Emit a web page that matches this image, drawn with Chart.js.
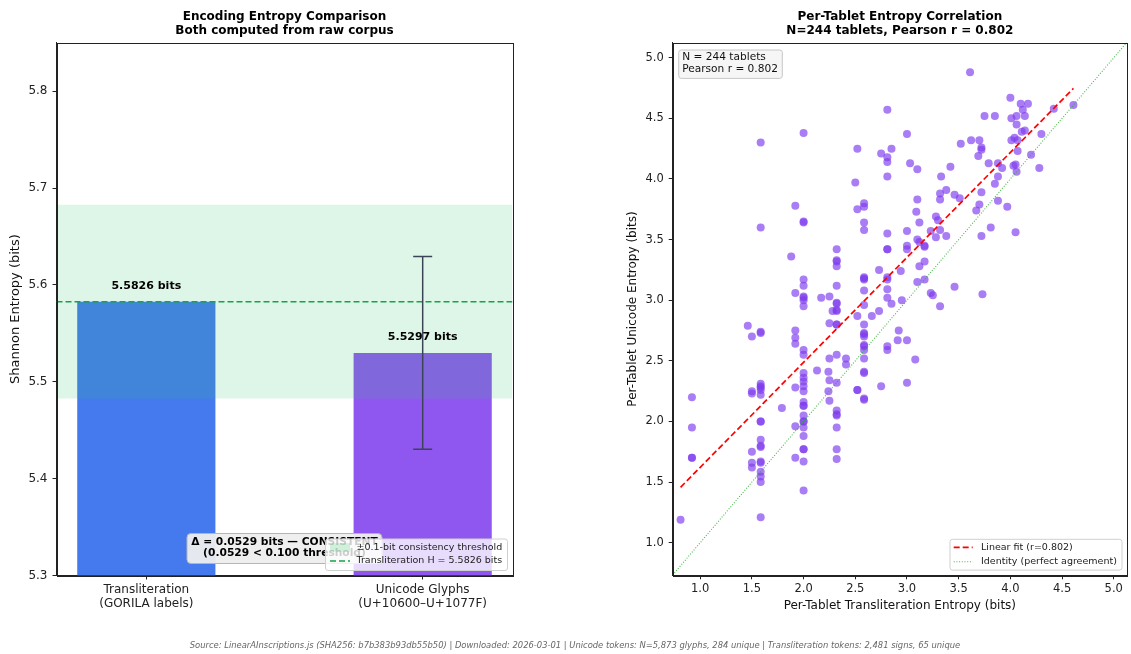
<!DOCTYPE html>
<html>
<head>
<meta charset="utf-8">
<title>Encoding Entropy</title>
<script src="https://cdn.jsdelivr.net/npm/chart.js@4.4.1/dist/chart.umd.min.js"></script>
<style>
  body { margin:0; background:#fff; }
  #wrap { position:relative; width:1131px; height:654px; overflow:hidden; }
  canvas { position:absolute; left:0; top:0; }
  #source { position:absolute; left:0; width:1150px; top:640px; text-align:center;
            font:italic 8.4px 'DejaVu Sans'; color:#666; white-space:nowrap; }
</style>
</head>
<body>
<div id="wrap">
  <canvas id="barChart" width="1131" height="654"></canvas>
  <canvas id="scatterChart" width="1131" height="654"></canvas>
  <div id="source">Source: LinearAInscriptions.js (SHA256: b7b383b93db55b50) | Downloaded: 2026-03-01 | Unicode tokens: N=5,873 glyphs, 284 unique | Transliteration tokens: 2,481 signs, 65 unique</div>
</div>
<script>
// ---- left panel data ----
const categories = [['Transliteration', '(GORILA labels)'], ['Unicode Glyphs', '(U+10600–U+1077F)']];
const entropy = [5.5826, 5.5297];
const entropyErr = [0, 0.0995];
const threshold = 0.1;
const barXLim = [-0.325, 1.325];
const barYLim = [5.3, 5.85];
const barYTicks = [5.3, 5.4, 5.5, 5.6, 5.7, 5.8];

// ---- right panel data (per tablet) ----
const translitH = [
  0.81,0.92,0.92,0.92,0.92,1.46,1.50,1.585,1.585,1.50,
  1.50,1.585,1.585,1.585,1.585,1.585,1.585,1.585,1.585,1.585,
  1.585,1.50,1.50,1.50,1.585,1.585,1.585,1.585,1.585,1.585,
  1.79,1.92,1.92,1.92,1.92,1.92,1.92,
  2.00,2.00,2.00,2.00,2.00,2.00,2.00,2.00,2.00,2.00,2.00,2.00,2.00,2.00,2.00,2.00,2.00,2.00,2.00,2.00,2.00,
  2.13,2.24,2.25,2.24,2.25,2.25,2.25,2.32,2.32,2.32,
  2.32,2.32,2.32,2.32,2.32,2.32,2.32,2.41,2.41,2.52,
  2.52,2.52,
  2.585,2.585,2.585,2.585,2.585,2.585,2.585,2.585,2.585,2.585,2.585,2.585,2.585,
  2.66,2.73,2.75,2.81,2.81,2.85,2.92,2.91,3.00,3.00,
  2.95,3.08,3.32,
  3.61,2.81,2.00,1.585,3.00,2.52,2.75,2.81,2.81,2.85,
  3.03,3.10,2.81,2.50,1.92,2.00,2.00,1.585,2.52,2.585,
  2.585,2.585,2.585,1.88,1.92,2.00,2.00,2.00,2.00,2.17,
  2.25,2.32,2.32,2.32,2.32,2.32,2.32,2.32,2.28,2.32,
  2.32,2.81,2.81,2.81,2.73,2.81,2.81,2.81,2.81,2.585,
  2.585,2.585,2.585,2.94,3.00,3.00,3.00,3.10,3.09,3.12,
  3.10,3.12,3.17,3.17,3.10,3.12,3.17,3.17,3.23,3.28,
  3.30,3.28,3.32,3.38,3.23,3.25,3.46,3.32,3.32,3.38,
  3.46,3.51,3.33,3.42,3.52,3.62,3.70,3.72,3.72,3.69,
  3.79,3.72,3.70,3.67,3.72,3.81,3.73,3.75,3.85,3.85,
  3.88,3.88,3.92,3.88,3.97,4.05,4.00,4.01,4.06,4.06,
  4.10,4.17,4.12,4.14,4.11,4.14,4.01,4.04,4.07,4.07,
  4.20,4.03,4.05,4.06,4.28,4.30,4.42,4.61
];
const unicodeH = [
  1.19,2.20,1.95,1.70,1.70,2.79,2.70,2.73,2.74,2.25,
  2.23,2.31,2.29,2.28,2.26,2.22,2.00,2.00,1.85,1.79,
  1.80,1.75,1.66,1.62,1.67,1.66,1.585,1.545,1.50,1.21,
  2.11,2.75,2.69,2.64,2.28,1.96,1.70,
  3.00,2.95,2.59,2.55,2.40,2.36,2.33,2.29,2.25,2.16,2.13,2.13,2.05,2.00,2.00,1.95,1.88,1.77,1.77,1.67,1.43,
  2.42,2.41,2.34,2.25,2.17,2.52,2.81,2.80,2.80,2.55,
  2.32,2.09,2.05,2.06,1.95,1.77,1.69,2.52,2.47,2.87,
  2.26,2.26,
  2.96,2.80,2.73,2.72,2.70,2.62,2.63,2.59,2.52,2.40,2.41,2.18,2.19,
  2.87,2.91,2.29,2.62,2.59,2.97,2.75,2.67,2.67,2.32,
  3.00,2.51,2.95,
  4.88,4.57,4.38,4.30,4.37,4.25,4.21,4.18,4.14,4.25,
  4.13,4.08,4.02,3.97,3.78,3.64,3.65,3.60,3.75,3.80,
  3.77,3.64,3.58,3.36,3.06,3.17,3.12,3.03,3.02,3.02,
  3.03,3.42,3.32,3.33,3.28,3.12,2.97,2.98,2.91,2.91,
  2.92,3.55,3.42,3.42,3.25,3.19,3.17,3.09,3.02,3.19,
  3.18,3.17,3.08,3.24,3.57,3.45,3.42,3.83,3.73,3.64,
  3.50,3.48,3.45,3.44,3.15,3.28,3.32,3.17,3.57,3.69,
  3.66,3.52,3.58,3.53,3.06,3.04,3.11,3.88,3.83,3.91,
  3.87,3.84,4.02,4.10,4.29,4.32,4.32,4.26,4.24,4.19,
  4.13,3.89,3.79,3.74,3.53,3.60,3.05,4.52,4.52,3.96,
  4.13,4.02,4.09,3.82,3.77,3.56,4.67,4.50,4.52,4.45,
  4.62,4.62,4.57,4.52,4.39,4.40,4.32,4.34,4.32,4.23,
  4.20,4.11,4.12,4.06,4.09,4.37,4.58,4.61
];
const fitX = [0.81, 4.61];
const fitY = [1.457, 4.747];
const identityRange = [0.70, 5.15];
const scatterXLim = [0.734, 5.128];
const scatterYLim = [0.731, 5.124];
const scatterTicks = [1.0, 1.5, 2.0, 2.5, 3.0, 3.5, 4.0, 4.5, 5.0];
const nTablets = 244, pearsonR = 0.802;

Chart.defaults.font.family = "'DejaVu Sans', sans-serif";
Chart.defaults.color = '#222';
Chart.defaults.animation = false;

const FONT = "'DejaVu Sans'";
const BLUE = 'rgba(37,99,235,0.85)', PURPLE = 'rgba(124,58,237,0.85)';
const BAND = 'rgba(34,197,94,0.15)', GREEN = '#16a34a';
const IDENTITY = 'rgba(44,170,44,0.85)';

// shared helpers
function roundBox(ctx, x, y, w, h, r, fill, stroke){
  ctx.beginPath();
  ctx.roundRect(x, y, w, h, r);
  ctx.fillStyle = fill; ctx.fill();
  if (stroke){ ctx.strokeStyle = stroke; ctx.lineWidth = 1; ctx.stroke(); }
}
const panelTitle = {
  id: 'panelTitle',
  afterDraw(chart, args, opts){
    const {ctx, chartArea: a} = chart;
    ctx.save();
    ctx.font = 'bold 12px ' + FONT; ctx.fillStyle = '#000';
    ctx.textAlign = 'center'; ctx.textBaseline = 'middle';
    opts.lines.forEach((t, i) => ctx.fillText(t, (a.left + a.right) / 2, 17 + i * 14));
    // top/right spines
    ctx.strokeStyle = '#222'; ctx.lineWidth = 1;
    ctx.strokeRect(Math.round(a.left) + 0.5, Math.round(a.top) + 0.5, Math.round(a.right - a.left), Math.round(a.bottom - a.top));
    ctx.restore();
  }
};
function fixTicks(list){ return s => { s.ticks = list.map(v => ({value: v})); }; }
const tickGrid = {drawOnChartArea: false, color: '#222', tickLength: 4, offset: false};

// ---------------- left: bar chart ----------------
const barAnnotations = {
  id: 'barAnnotations',
  afterDatasetsDraw(chart){
    const {ctx, scales: {x, y}} = chart;
    ctx.save();
    // error bars
    ctx.strokeStyle = '#3b4454'; ctx.lineWidth = 1.5;
    entropy.forEach((v, i) => {
      if (!entropyErr[i]) return;
      const px = x.getPixelForValue(i);
      const t = y.getPixelForValue(v + entropyErr[i]), b = y.getPixelForValue(v - entropyErr[i]);
      ctx.beginPath();
      ctx.moveTo(px, t); ctx.lineTo(px, b);
      ctx.moveTo(px - 9.5, t); ctx.lineTo(px + 9.5, t);
      ctx.moveTo(px - 9.5, b); ctx.lineTo(px + 9.5, b);
      ctx.stroke();
    });
    // value labels
    ctx.font = 'bold 11px ' + FONT; ctx.fillStyle = '#000';
    ctx.textAlign = 'center'; ctx.textBaseline = 'middle';
    entropy.forEach((v, i) => ctx.fillText(v.toFixed(4) + ' bits', x.getPixelForValue(i), y.getPixelForValue(v) - 15.5));
    ctx.restore();
  },
  afterDraw(chart){
    const {ctx, chartArea: a} = chart;
    const cx = (a.left + a.right) / 2;
    const delta = entropy[0] - entropy[1];
    ctx.save();
    // delta box
    roundBox(ctx, cx - 97.5, 533.5, 195, 30, 4, 'rgba(238,238,238,0.95)', '#b5b5b5');
    ctx.font = 'bold 10.7px ' + FONT; ctx.fillStyle = '#000';
    ctx.textAlign = 'center'; ctx.textBaseline = 'middle';
    ctx.fillText('Δ = ' + delta.toFixed(4) + ' bits — ' + (delta < threshold ? 'CONSISTENT' : 'INCONSISTENT'), cx, 541.8);
    ctx.fillText('(' + delta.toFixed(4) + ' < ' + threshold.toFixed(3) + ' threshold)', cx, 553.4);
    // legend
    const lx = a.right - 187, ly = a.bottom - 36.5;
    roundBox(ctx, lx, ly, 182, 31.5, 2.5, 'rgba(255,255,255,0.8)', '#d0d0d0');
    ctx.fillStyle = 'rgba(34,197,94,0.2)';
    ctx.fillRect(lx + 4.5, ly + 4.2, 20, 8.4);
    ctx.strokeStyle = GREEN; ctx.lineWidth = 1.6; ctx.setLineDash([6, 3]);
    ctx.beginPath(); ctx.moveTo(lx + 4.5, ly + 22); ctx.lineTo(lx + 24.5, ly + 22); ctx.stroke();
    ctx.setLineDash([]);
    ctx.font = '9.5px ' + FONT; ctx.fillStyle = '#222'; ctx.textAlign = 'left';
    ctx.fillText('±' + threshold + '-bit consistency threshold', lx + 31, ly + 8.5);
    ctx.fillText('Transliteration H = ' + entropy[0].toFixed(4) + ' bits', lx + 31, ly + 22);
    ctx.restore();
  }
};

new Chart(document.getElementById('barChart'), {
  type: 'bar',
  data: {
    datasets: [
      {
        label: 'Entropy',
        data: entropy.map((v, i) => ({x: i, y: v})),
        backgroundColor: [BLUE, PURPLE],
        barPercentage: 0.5, categoryPercentage: 1.0,
        order: 3
      },
      {
        type: 'line', label: 'band high',
        data: barXLim.map(x => ({x, y: entropy[0] + threshold})),
        borderWidth: 0, pointRadius: 0, fill: '+1', backgroundColor: BAND, order: 2
      },
      {
        type: 'line', label: 'band low',
        data: barXLim.map(x => ({x, y: entropy[0] - threshold})),
        borderWidth: 0, pointRadius: 0, fill: false, order: 2
      },
      {
        type: 'line', label: 'Transliteration H',
        data: barXLim.map(x => ({x, y: entropy[0]})),
        borderColor: GREEN, borderWidth: 1.6, borderDash: [6, 3], pointRadius: 0, fill: false, order: 1
      }
    ]
  },
  options: {
    responsive: false, devicePixelRatio: 1,
    layout: {padding: {left: 0, right: 618.5, top: 42.7, bottom: 0}},
    plugins: {legend: {display: false}, tooltip: {enabled: false}, panelTitle: {lines: ['Encoding Entropy Comparison', 'Both computed from raw corpus']}},
    scales: {
      x: {
        type: 'linear', min: barXLim[0], max: barXLim[1], offset: false,
        afterBuildTicks: fixTicks([0, 1]),
        afterFit: s => { s.height = 78.5; },
        grid: tickGrid, border: {color: '#222'},
        ticks: {font: {size: 12}, padding: 3, color: '#222', autoSkip: false, maxRotation: 0,
                callback: v => categories[v]}
      },
      y: {
        min: barYLim[0], max: barYLim[1],
        afterBuildTicks: fixTicks(barYTicks),
        afterFit: s => { s.width = 56.5; },
        grid: tickGrid, border: {color: '#222'},
        ticks: {font: {size: 12}, padding: 5, color: '#222', callback: v => v.toFixed(1)},
        title: {display: true, text: 'Shannon Entropy (bits)', font: {size: 13}, color: '#111', padding: {top: 8, bottom: 0}}
      }
    }
  },
  plugins: [panelTitle, barAnnotations]
});

// ---------------- right: scatter ----------------
const scatterBoxes = {
  id: 'scatterBoxes',
  afterDraw(chart){
    const {ctx, chartArea: a} = chart;
    ctx.save();
    // stats box
    roundBox(ctx, a.left + 6, a.top + 7.3, 103.6, 28.4, 2.5, 'rgba(245,245,245,0.9)', '#c8c8c8');
    ctx.font = '10.6px ' + FONT; ctx.fillStyle = '#111';
    ctx.textAlign = 'left'; ctx.textBaseline = 'middle';
    ctx.fillText('N = ' + nTablets + ' tablets', a.left + 9.5, a.top + 15);
    ctx.fillText('Pearson r = ' + pearsonR.toFixed(3), a.left + 9.5, a.top + 26.8);
    // legend
    const lx = a.right - 177, ly = a.bottom - 36;
    roundBox(ctx, lx, ly, 172, 30.8, 2.5, 'rgba(255,255,255,0.8)', '#d0d0d0');
    ctx.lineWidth = 1.7; ctx.strokeStyle = '#ff0000'; ctx.setLineDash([6, 3]);
    ctx.beginPath(); ctx.moveTo(lx + 3.7, ly + 8); ctx.lineTo(lx + 22.7, ly + 8); ctx.stroke();
    ctx.lineWidth = 1.1; ctx.strokeStyle = IDENTITY; ctx.setLineDash([1, 1.7]);
    ctx.beginPath(); ctx.moveTo(lx + 3.7, ly + 22.4); ctx.lineTo(lx + 22.7, ly + 22.4); ctx.stroke();
    ctx.setLineDash([]);
    ctx.font = '9.5px ' + FONT; ctx.fillStyle = '#222';
    ctx.fillText('Linear fit (r=' + pearsonR.toFixed(3) + ')', lx + 31, ly + 8);
    ctx.fillText('Identity (perfect agreement)', lx + 31, ly + 22.4);
    ctx.restore();
  }
};

new Chart(document.getElementById('scatterChart'), {
  type: 'scatter',
  data: {
    datasets: [
      {
        type: 'line', label: 'Linear fit',
        data: fitX.map((x, i) => ({x, y: fitY[i]})),
        borderColor: '#ff0000', borderWidth: 1.7, borderDash: [6, 3], pointRadius: 0, fill: false, order: 0
      },
      {
        type: 'line', label: 'Identity',
        data: identityRange.map(v => ({x: v, y: v})),
        borderColor: IDENTITY, borderWidth: 1.1, borderDash: [1, 1.7], pointRadius: 0, fill: false, order: 0
      },
      {
        label: 'Tablets',
        data: translitH.map((x, i) => ({x, y: unicodeH[i]})),
        backgroundColor: 'rgba(124,58,237,0.66)', borderWidth: 0, pointRadius: 4, order: 1
      }
    ]
  },
  options: {
    responsive: false, devicePixelRatio: 1,
    layout: {padding: {left: 620, right: 2, top: 42.7, bottom: 0}},
    plugins: {legend: {display: false}, tooltip: {enabled: false}, panelTitle: {lines: ['Per-Tablet Entropy Correlation', 'N=' + nTablets + ' tablets, Pearson r = ' + pearsonR.toFixed(3)]}},
    scales: {
      x: {
        type: 'linear', min: scatterXLim[0], max: scatterXLim[1],
        afterBuildTicks: fixTicks(scatterTicks),
        afterFit: s => { s.height = 78.7; },
        grid: tickGrid, border: {color: '#222'},
        ticks: {font: {size: 11.5}, padding: 3, color: '#222', maxRotation: 0, callback: v => v.toFixed(1)},
        title: {display: true, text: 'Per-Tablet Transliteration Entropy (bits)', font: {size: 12}, color: '#111', padding: {top: 0, bottom: 40.8}}
      },
      y: {
        type: 'linear', min: scatterYLim[0], max: scatterYLim[1],
        afterBuildTicks: fixTicks(scatterTicks),
        afterFit: s => { s.width = 52.7; },
        grid: tickGrid, border: {color: '#222'},
        ticks: {font: {size: 11.5}, padding: 5, color: '#222', callback: v => v.toFixed(1)},
        title: {display: true, text: 'Per-Tablet Unicode Entropy (bits)', font: {size: 12}, color: '#111', padding: {top: 5.8, bottom: 0}}
      }
    }
  },
  plugins: [panelTitle, scatterBoxes]
});
</script>
</body>
</html>
